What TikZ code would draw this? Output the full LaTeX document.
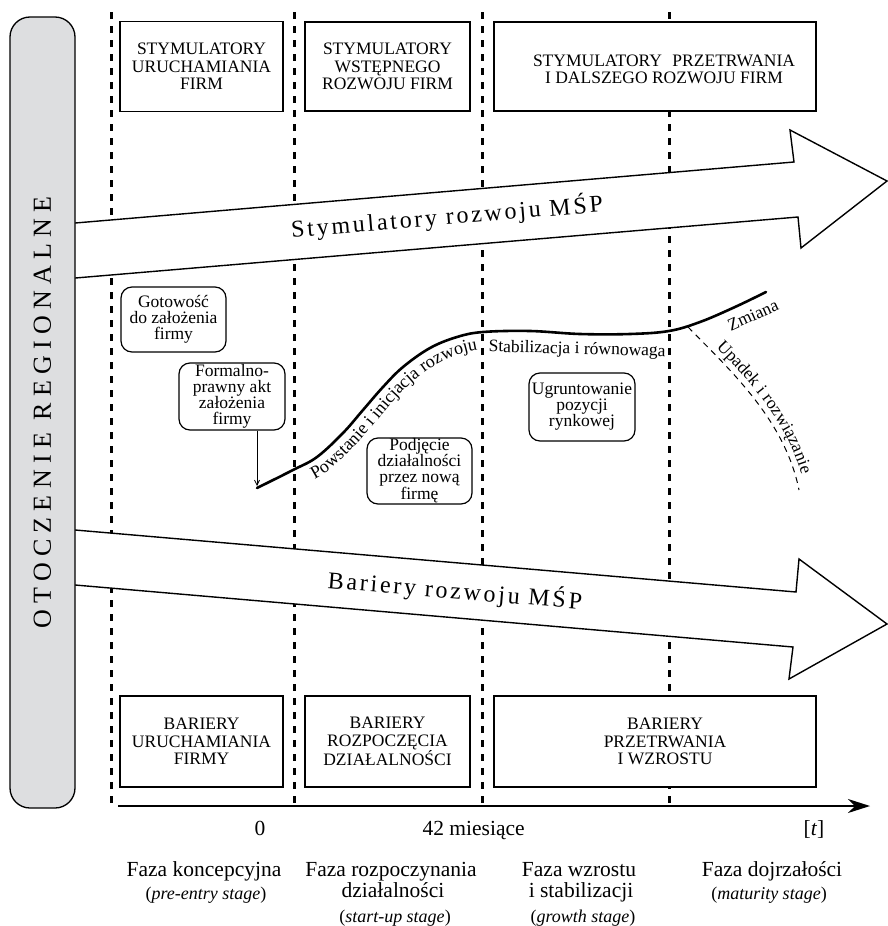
\documentclass[tikz,border=0pt]{standalone}
\usepackage{fontspec}
\setmainfont{Liberation Serif}
\newfontfamily\regionserif[LetterSpace=24]{Liberation Serif}
\newfontfamily\flowserif[LetterSpace=11.5]{Liberation Serif}
\usetikzlibrary{arrows.meta,decorations.text}
\definecolor{regiongray}{RGB}{221,222,224}

\begin{document}
\begin{tikzpicture}[x=1pt,y=-1pt,
  phaseline/.style={draw=black, line width=3pt, dash pattern=on 7pt off 7pt},
  flow/.style={draw, fill=white, line width=1.4pt, line join=miter},
  flowtext/.style={font=\flowserif\fontsize{24}{24}\selectfont},
  capbox/.style={draw, fill=white, line width=1.8pt, inner sep=0pt, align=center,
    font=\fontsize{17.5}{17.5}\selectfont},
  captext/.style={align=center, font=\fontsize{17.5}{17.5}\selectfont},
  note/.style={draw, fill=white, line width=1.2pt, rounded corners=11pt, inner sep=0pt,
    align=center, font=\fontsize{17.5}{16}\selectfont},
  lbl/.style={font=\fontsize{17.5}{17.5}\selectfont},
  phasename/.style={anchor=base, font=\fontsize{21.5}{22}\selectfont},
  stagename/.style={anchor=base, font=\fontsize{18}{18}\selectfont},
  growth/.style={line width=2.6pt, line cap=round, line join=round},
]
\useasboundingbox (0,0) rectangle (887,926);

% phase boundaries
\draw[phaseline] (111.5,12) -- (111.5,806);
\draw[phaseline] (294.5,12) -- (294.5,806);
\draw[phaseline] (482.5,12) -- (482.5,806);
\draw[phaseline] (669.5,12) -- (669.5,806);

% broad flows: stimulators and barriers
\draw[flow] (60,224.3) -- (794,162) -- (790,130) -- (887,181) -- (801,248)
  -- (798,217) -- (60,279.3) -- cycle;
\draw[flow] (60,528.7) -- (796,592) -- (799,559) -- (887,624) -- (789,679)
  -- (793,647) -- (60,583.7) -- cycle;
\node[flowtext, rotate=4.8] (stimtext) at (447,217) {Stymulatory rozwoju MŚP};
\node[flowtext, rotate=-4.7] (bartext) at (455,591) {Bariery rozwoju MŚP};

% stimulators per phase
\node[capbox, minimum width=163, minimum height=90] (s1) at (201.5,66.5)
  {STYMULATORY\\URUCHAMIANIA\\FIRM};
\node[capbox, minimum width=165, minimum height=89] (s2) at (387.5,66.5)
  {STYMULATORY\\WSTĘPNEGO\\ROZWOJU FIRM};
\node[capbox, minimum width=322, minimum height=89,
  label={[captext, xshift=9pt, yshift=-3pt]center:{STYMULATORY\hspace{0.6em}PRZETRWANIA\\I DALSZEGO ROZWOJU FIRM}}]
  (s3) at (655,66.5) {};

% barriers per phase
\node[capbox, minimum width=163, minimum height=91] (b1) at (201.5,741.5)
  {BARIERY\\URUCHAMIANIA\\FIRMY};
\node[capbox, minimum width=165, minimum height=91] (b2) at (387.5,741.5)
  {BARIERY\\ROZPOCZĘCIA\\DZIAŁALNOŚCI};
\node[capbox, minimum width=322, minimum height=91,
  label={[captext, xshift=10pt]center:{BARIERY\\PRZETRWANIA\\I WZROSTU}}]
  (b3) at (655,741.5) {};

% regional environment
\node[draw, fill=regiongray, line width=1.3pt, rounded corners=20pt, rotate=90,
  minimum width=791, minimum height=65, inner sep=0pt,
  font=\regionserif\fontsize{26}{26}\selectfont] (region) at (42.5,412.5)
  {OTOCZENIE REGIONALNE};

% milestones
\node[note, minimum width=105, minimum height=65] (ready) at (173.5,319.5)
  {Gotowość\\do założenia\\firmy};
\node[note, minimum width=106, minimum height=67] (formal) at (232,396.5)
  {Formalno-\\prawny akt\\założenia\\firmy};
\node[note, minimum width=105, minimum height=66] (launch) at (419.5,471)
  {Podjęcie\\działalności\\przez nową\\firmę};
\node[note, minimum width=106, minimum height=68] (position) at (582,407)
  {Ugruntowanie\\pozycji\\rynkowej};

% life curve of the firm
\coordinate (birth) at (257,488);
\coordinate (fork) at (688,327);
\coordinate (decline) at (799,490);
\draw[growth] plot[smooth, tension=0.6] coordinates {(257,488) (293,470) (317,457)
  (343,433) (363,410) (383,387) (403,367) (430,348) (457,337) (483,332) (530,331)
  (580,334) (630,334) (669,331) (700,322) (735,307) (766,292)};
% label running just below the rising part of the curve
\path[decorate, decoration={text along path, text align={left indent=15pt},
  text={|\fontsize{18}{18}\selectfont|Powstanie i inicjacja rozwoju}}]
  plot[smooth, tension=0.6] coordinates {(301,485.5) (327,471.5) (355,445.5)
  (376,421.5) (395.5,399) (414,380.5) (438.5,363) (462,353.5) (484.5,349)
  (510,348)};
\draw[line width=0.8pt, shorten >=2pt, -{Straight Barb[length=5pt,width=5pt]}]
  (formal.south -| birth) -- (birth);

\draw[line width=1pt, dash pattern=on 6pt off 5pt]
  (fork) .. controls (730,370) and (785,420) .. (decline);
\path[decorate, decoration={text along path, raise=6pt, text align={left indent=34pt},
  text={|\fontsize{17.5}{17.5}\selectfont|Upadek i rozwiązanie}}]
  (fork) .. controls (730,370) and (785,420) .. (decline);

\node[lbl, rotate=24] (change) at (753,315) {Zmiana};
\node[lbl, rotate=-1.5, anchor=base] (stable) at (577,354) {Stabilizacja i równowaga};

% time axis
\coordinate (t0) at (118,806);
\coordinate (tend) at (870,806);
\draw[line width=1.5pt, -{Stealth[length=22pt,width=14pt,inset=7pt]}] (t0) -- (tend);
\node[phasename] (zero) at (260,835) {0};
\node[phasename, anchor=base west] (month42) at (419,835) {42 miesiące};
\node[phasename] (tlabel) at (814,835) {[\textit{t}]};

% phase names
\node[phasename] (ph1) at (204,876) {Faza koncepcyjna};
\node[stagename] (st1) at (206,899) {(\textit{pre-entry stage})};
\node[phasename] (ph2) at (391,876) {Faza rozpoczynania};
\node[phasename] (ph2b) at (393,897) {działalności};
\node[stagename] (st2) at (395,922) {(\textit{start-up stage})};
\node[phasename] (ph3) at (579,876) {Faza wzrostu};
\node[phasename] (ph3b) at (581,897) {i stabilizacji};
\node[stagename] (st3) at (583,922) {(\textit{growth stage})};
\node[phasename] (ph4) at (772,876) {Faza dojrzałości};
\node[stagename] (st4) at (769,899) {(\textit{maturity stage})};
\end{tikzpicture}
\end{document}
